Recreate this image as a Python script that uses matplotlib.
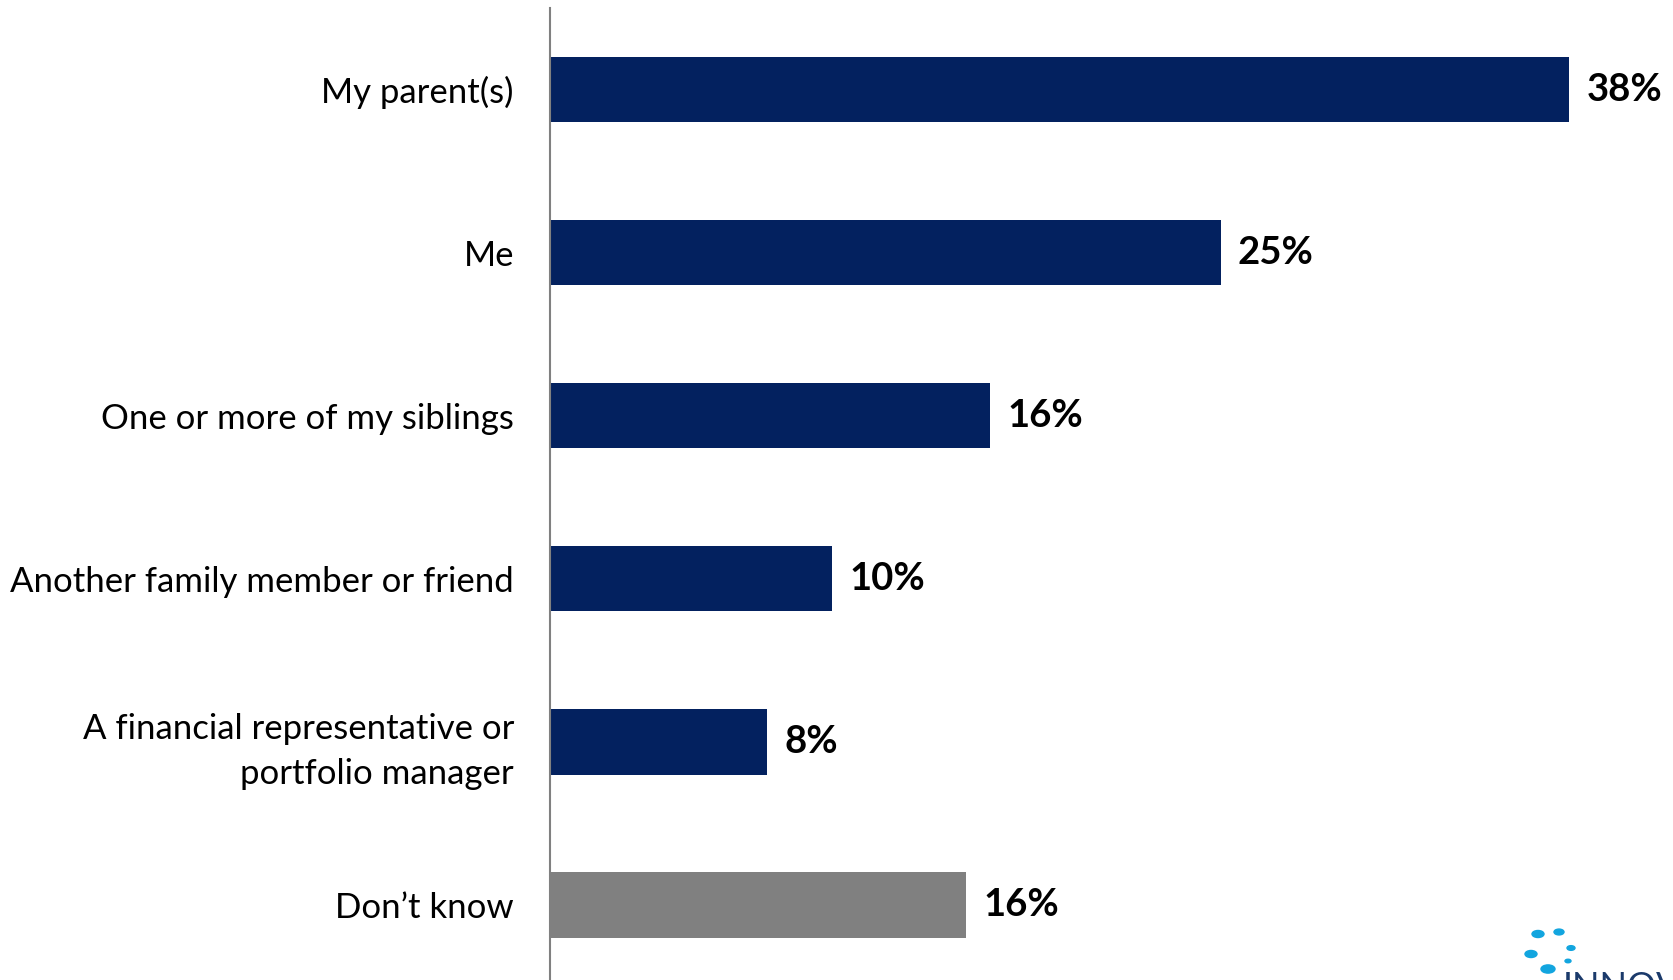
import matplotlib
matplotlib.use("Agg")
import matplotlib.pyplot as plt

categories = ["My parent(s)", "Me", "One or more of my siblings",
              "Another family member or friend",
              "A financial representative or\nportfolio manager", "Don\u2019t know"]
values = [38, 25, 16.4, 10.5, 8.1, 15.5]
labels = ["38%", "25%", "16%", "10%", "8%", "16%"]
colors = ["#03215F"] * 5 + ["#808080"]

plt.rcParams['font.family'] = ['Lato', 'DejaVu Sans']

fig = plt.figure(figsize=(16.73, 9.80), dpi=100)
ax = fig.add_axes([550/1673, 0.0, 1123/1673, 1 - 8/980])

ypos = list(range(len(categories)))
ax.barh(ypos, values, height=0.4, color=colors)
ax.set_ylim(5.46, -0.5)
ax.set_xlim(0, 41.87)

for y, v, t in zip(ypos, values, labels):
    ax.text(v + 0.65, y, t, va='center', ha='left', fontsize=27.5,
            fontweight='bold', color='black')

ax.set_yticks(ypos)
ax.set_yticklabels(categories, fontsize=25, ha='right', linespacing=1.5)
ax.tick_params(axis='y', length=0, pad=26)
ax.set_xticks([])
for s in ['top', 'right', 'bottom']:
    ax.spines[s].set_visible(False)
ax.spines['left'].set_color('#808080')
ax.spines['left'].set_linewidth(1.5)

# logo fragment (bottom right)
dots_x = [1538, 1559, 1531, 1571, 1568, 1548]
dots_y = [934, 932, 954, 948, 961, 969]
dots_r = [6, 5, 6, 4, 3, 7]
for x, y, r in zip(dots_x, dots_y, dots_r):
    fig.patches.append(matplotlib.patches.Circle((x/1673, 1 - y/980), r/1673,
                       transform=fig.transFigure, color='#12A5DF',
                       figure=fig))
fig.text(1563/1673, 1 - 998/980, "INNOV", fontsize=26, color='#1B3A6B',
         ha='left', va='baseline')

fig.savefig("out.png", dpi=100)
